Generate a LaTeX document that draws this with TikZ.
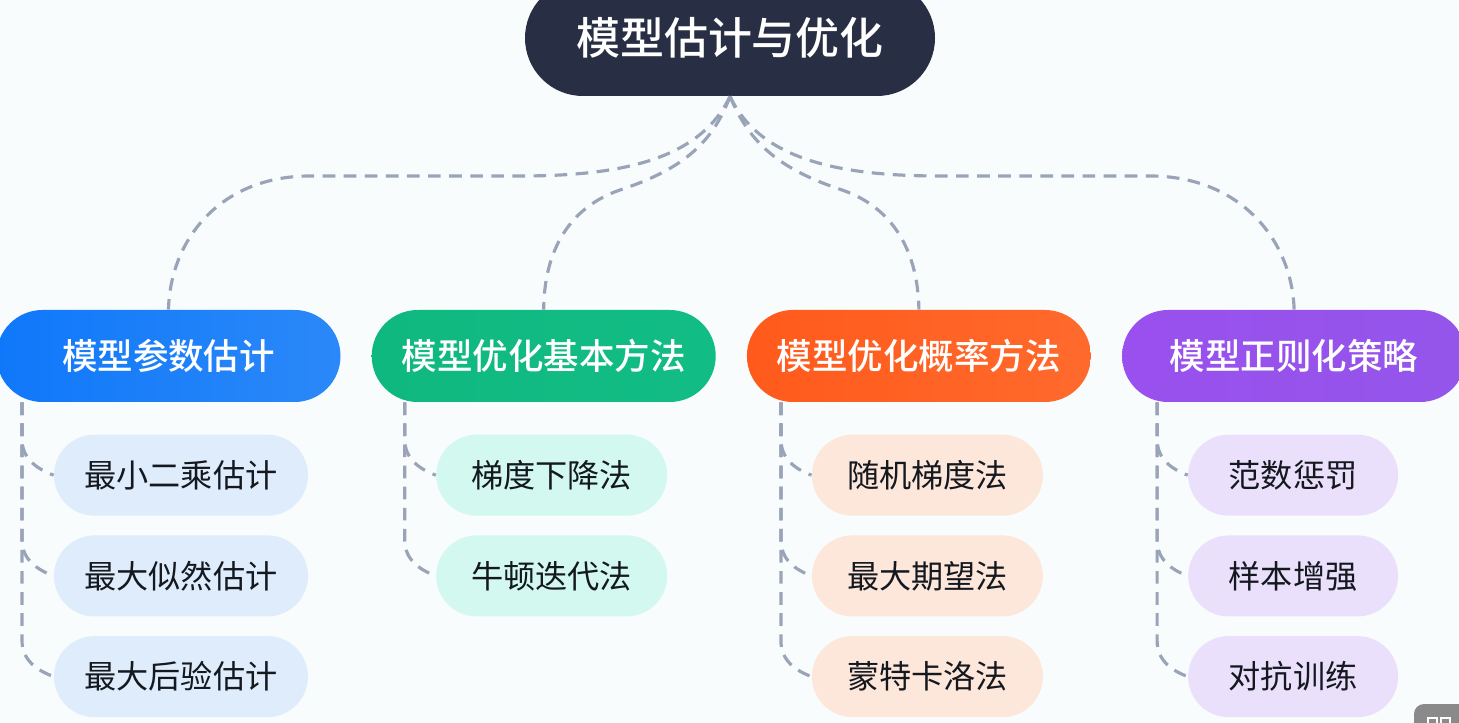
\documentclass[tikz,border=0pt]{standalone}
\usepackage{fontspec}
\setmainfont{Noto Sans CJK SC}
\newfontfamily\medfont{Noto Sans CJK SC Medium}
\usetikzlibrary{positioning,calc,shapes.misc}
\definecolor{pagebg}{HTML}{F9FCFD}
\definecolor{rootdark}{HTML}{282F44}
\definecolor{dashgrey}{HTML}{9AA4B8}
\definecolor{inktext}{HTML}{14181F}
\definecolor{badgegrey}{HTML}{8A8A8A}
\definecolor{catbluea}{HTML}{0F78FA}
\definecolor{catblueb}{HTML}{2B88F8}
\definecolor{catgreena}{HTML}{0FB87F}
\definecolor{catgreenb}{HTML}{12BD85}
\definecolor{catorangea}{HTML}{FF5A1C}
\definecolor{catorangeb}{HTML}{FF6A2C}
\definecolor{catpurplea}{HTML}{9A50EE}
\definecolor{catpurpleb}{HTML}{9455EA}
\definecolor{leafblue}{HTML}{DEECFC}
\definecolor{leafgreen}{HTML}{D2F8EF}
\definecolor{leaforange}{HTML}{FDE6DA}
\definecolor{leafpurple}{HTML}{EBE0FB}
\tikzset{
  pill/.style     = {rounded rectangle, inner sep=0pt, align=center},
  rootbox/.style  = {pill, fill=rootdark, text=white, minimum width=82mm, minimum height=23.2mm, font=\fontsize{25}{30}\medfont},
  catbox/.style   = {pill, text=white, minimum width=68.8mm, minimum height=18.4mm, font=\fontsize{20.2}{24}\medfont},
  leafbox/.style  = {pill, text=inktext, minimum height=16.2mm, font=\fontsize{18.3}{22}\selectfont},
  link/.style     = {draw=dashgrey, line width=1.8pt, dash pattern=on 7.2pt off 4.8pt},
  twig/.style     = {link, to path={-- ($(\tikztostart |- \tikztotarget)+(0,-36)$) .. controls +(0,20) and +(-16,-6) .. (\tikztotarget)}},
}
\begin{document}
\begin{tikzpicture}[x=0.2mm, y=-0.2mm]
  \useasboundingbox (0,0) rectangle (1459,723);
  \clip (0,0) rectangle (1459,723);
  \fill[pagebg] (0,0) rectangle (1459,723);
  % top and the four groups
  \node[rootbox] (root) at (730,38) {\raisebox{-1pt}{模型估计与优化}};
  \node[catbox, left color=catbluea, right color=catblueb] (param) at (168.5,356) {模型参数估计};
  \node[catbox, left color=catgreena, right color=catgreenb, right=6.1mm of param] (basic) {模型优化基本方法};
  \node[catbox, left color=catorangea, right color=catorangeb, right=6.1mm of basic] (prob) {模型优化概率方法};
  \node[catbox, left color=catpurplea, right color=catpurpleb, right=6.1mm of prob] (reg) {模型正则化策略};
  % leaves
  \node[leafbox, fill=leafblue, minimum width=50.8mm, below=6.4mm of param, xshift=2.5mm] (lsq) {最小二乘估计};
  \node[leafbox, fill=leafblue, minimum width=50.8mm, below=3.8mm of lsq] (mle) {最大似然估计};
  \node[leafbox, fill=leafblue, minimum width=50.8mm, below=3.8mm of mle] (map) {最大后验估计};
  \node[leafbox, fill=leafgreen, minimum width=46.2mm, below=6.4mm of basic, xshift=1.6mm] (gd) {梯度下降法};
  \node[leafbox, fill=leafgreen, minimum width=46.2mm, below=3.8mm of gd] (newton) {牛顿迭代法};
  \node[leafbox, fill=leaforange, minimum width=46.2mm, below=6.4mm of prob, xshift=1.7mm] (sgd) {随机梯度法};
  \node[leafbox, fill=leaforange, minimum width=46.2mm, below=3.8mm of sgd] (em) {最大期望法};
  \node[leafbox, fill=leaforange, minimum width=46.2mm, below=3.8mm of em] (mc) {蒙特卡洛法};
  \node[leafbox, fill=leafpurple, minimum width=42mm, below=6.4mm of reg, xshift=-0.2mm] (norm) {范数惩罚};
  \node[leafbox, fill=leafpurple, minimum width=42mm, below=3.8mm of norm] (aug) {样本增强};
  \node[leafbox, fill=leafpurple, minimum width=42mm, below=3.8mm of aug] (adv) {对抗训练};
  % top links
  \draw[link] (root.south) .. controls (700,160) and (620,176) .. (520,176) -- (310,176) .. controls (220,176) and (170,240) .. (param.north);
  \draw[link] (root.south) .. controls (712,145) and (680,170) .. (620,190) .. controls (570,207) and (544,250) .. (basic.north);
  \draw[link] (root.south) .. controls (750,145) and (782,170) .. (842,190) .. controls (892,207) and (918,250) .. (prob.north);
  \draw[link] (root.south) .. controls (760,160) and (840,176) .. (940,176) -- (1150,176) .. controls (1240,176) and (1292,240) .. (reg.north);
  % trunks hanging under each group
  \coordinate (trunkparam) at ($(param.south)+(-146.5,0)$);
  \coordinate (trunkbasic) at ($(basic.south)+(-139,0)$);
  \coordinate (trunkprob) at ($(prob.south)+(-138,0)$);
  \coordinate (trunkreg) at ($(reg.south)+(-137,0)$);
  \draw[twig] (trunkparam) to (lsq.west);
  \draw[twig] (trunkparam) to (mle.west);
  \draw[twig] (trunkparam) to (map.west);
  \draw[twig] (trunkbasic) to (gd.west);
  \draw[twig] (trunkbasic) to (newton.west);
  \draw[twig] (trunkprob) to (sgd.west);
  \draw[twig] (trunkprob) to (em.west);
  \draw[twig] (trunkprob) to (mc.west);
  \draw[twig] (trunkreg) to (norm.west);
  \draw[twig] (trunkreg) to (aug.west);
  \draw[twig] (trunkreg) to (adv.west);
  % corner badge
  \fill[badgegrey, rounded corners=2mm] (1414,704) rectangle (1480,740);
  \draw[white, line width=0.9pt] (1428,718) rectangle (1437,730) (1441,718) rectangle (1450,730);
\end{tikzpicture}
\end{document}
